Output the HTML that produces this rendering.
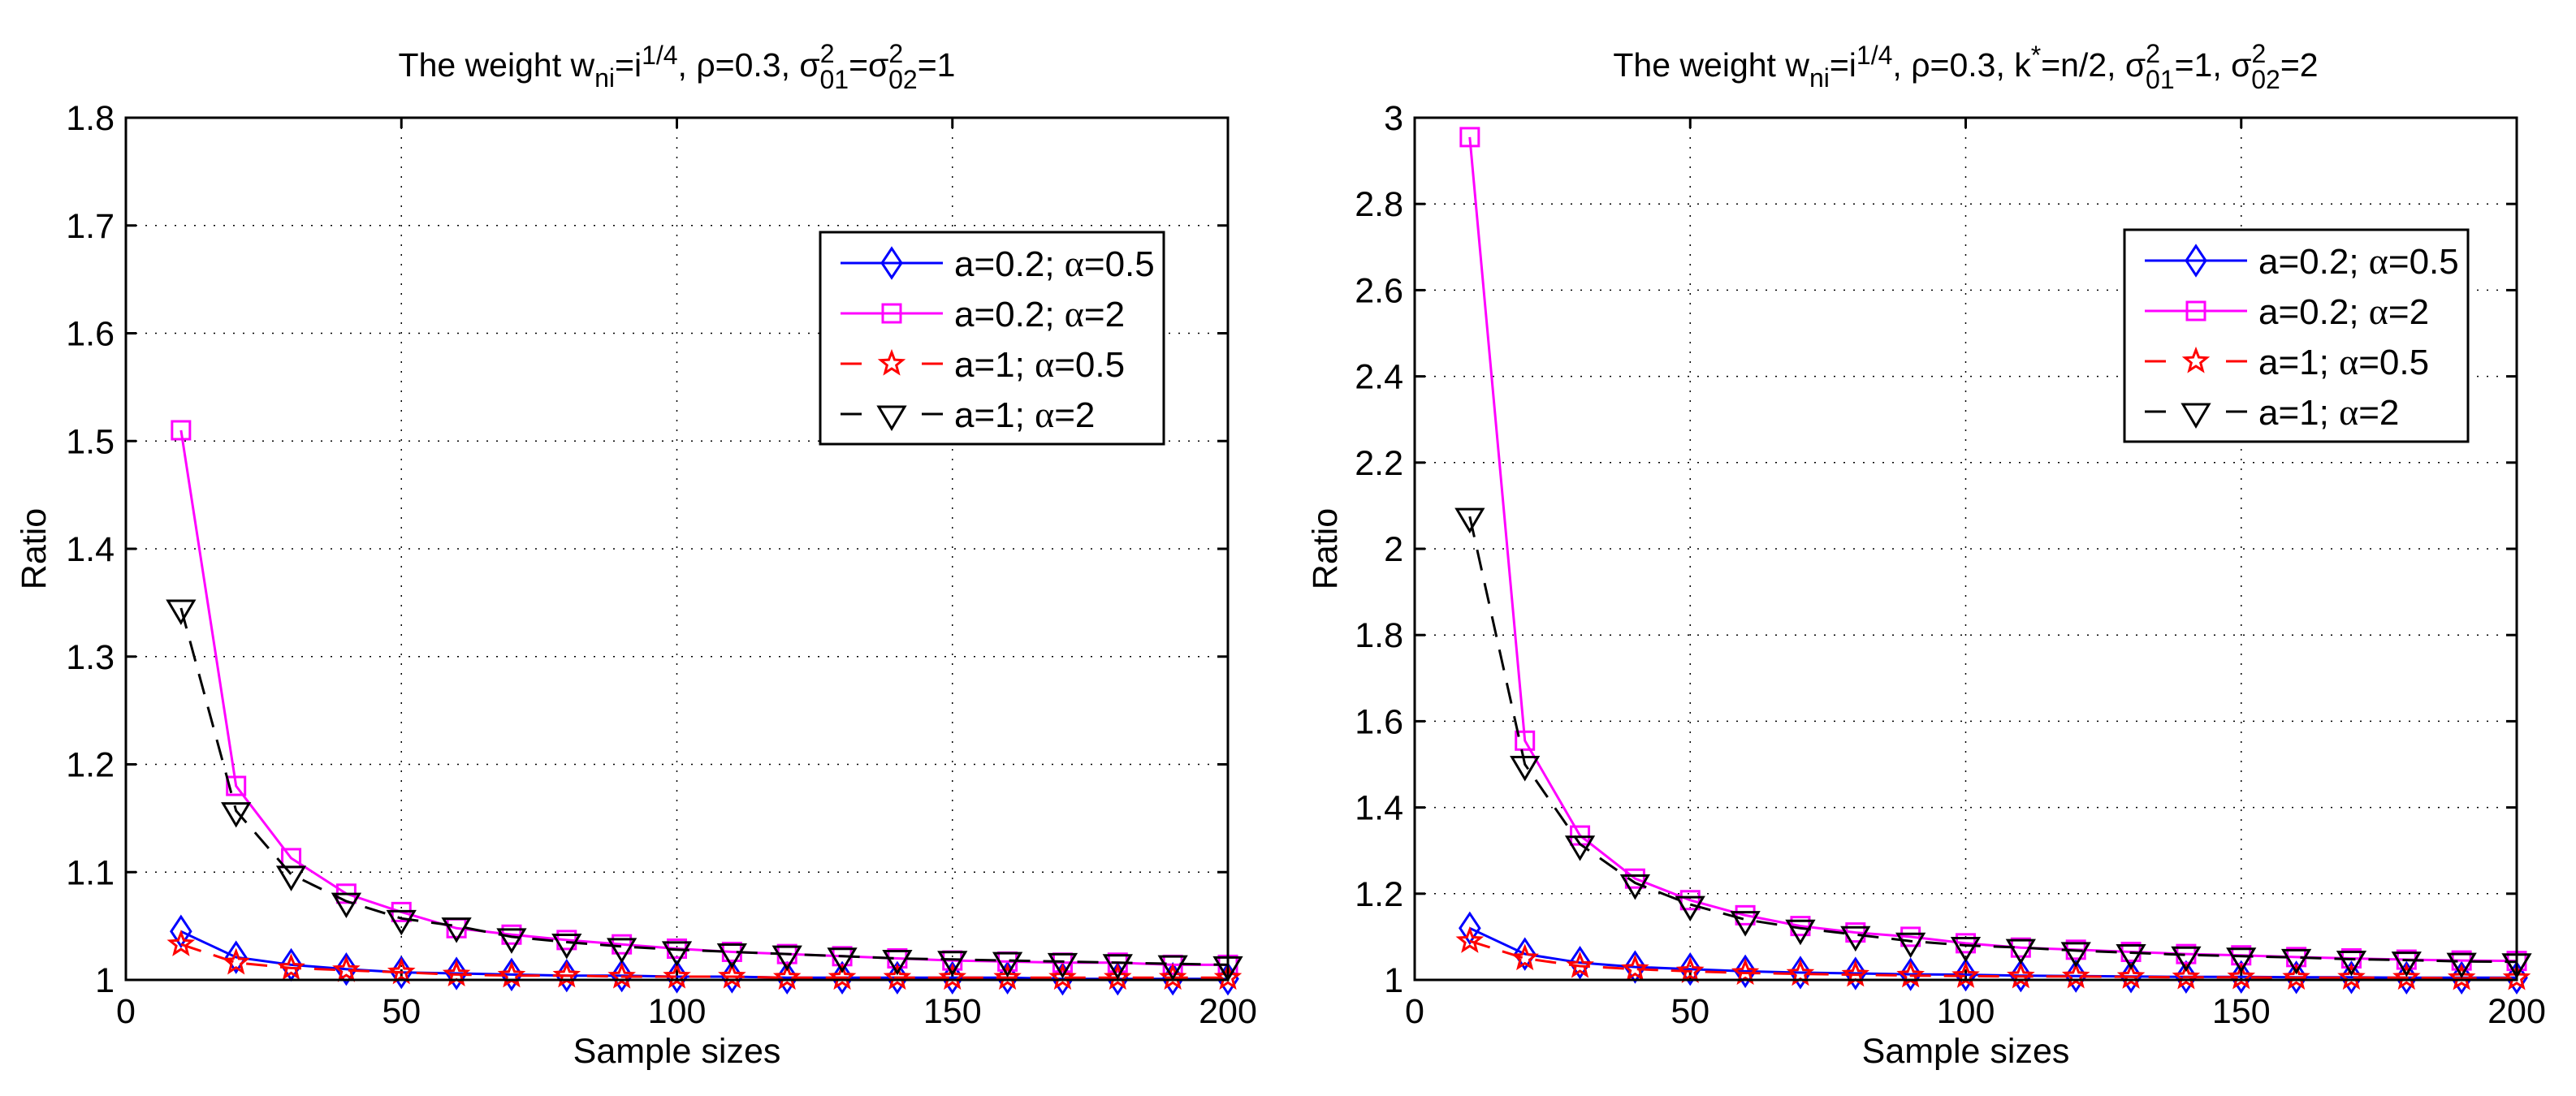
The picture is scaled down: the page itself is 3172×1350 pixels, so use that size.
<!DOCTYPE html>
<html><head><meta charset="utf-8">
<style>
html,body{margin:0;padding:0;background:#fff;}
svg{display:block;font-family:"Liberation Sans",Arial,sans-serif;}
</style></head>
<body>
<svg id="fig" width="3172" height="1350" viewBox="0 0 3172 1350" xmlns="http://www.w3.org/2000/svg"></svg>
<script>
const xValues = [10,20,30,40,50,60,70,80,90,100,110,120,130,140,150,160,170,180,190,200];
const xTicks = [0,50,100,150,200];
const leftYTicks = [1,1.1,1.2,1.3,1.4,1.5,1.6,1.7,1.8];
const leftYTickLabels = ["1","1.1","1.2","1.3","1.4","1.5","1.6","1.7","1.8"];
const rightYTicks = [1,1.2,1.4,1.6,1.8,2,2.2,2.4,2.6,2.8,3];
const rightYTickLabels = ["1","1.2","1.4","1.6","1.8","2","2.2","2.4","2.6","2.8","3"];
const seriesPrefix = ["a=0.2; ","a=0.2; ","a=1; ","a=1; "];
const seriesSuffix = ["=0.5","=2","=0.5","=2"];
const leftBlue = [1.045,1.021,1.014,1.010,1.007,1.006,1.005,1.004,1.004,1.003,1.003,1.002,1.002,1.002,1.002,1.002,1.001,1.001,1.001,1.001];
const leftMagenta = [1.51,1.18,1.113,1.08,1.063,1.048,1.042,1.037,1.033,1.029,1.026,1.024,1.022,1.020,1.018,1.017,1.016,1.016,1.014,1.014];
const leftRed = [1.033,1.016,1.011,1.009,1.007,1.005,1.004,1.004,1.003,1.003,1.003,1.002,1.002,1.002,1.002,1.002,1.002,1.002,1.002,1.002];
const leftBlack = [1.345,1.157,1.098,1.073,1.057,1.050,1.040,1.035,1.031,1.028,1.026,1.024,1.022,1.020,1.019,1.018,1.017,1.016,1.015,1.014];
const rightBlue = [1.12,1.06,1.04,1.03,1.025,1.02,1.017,1.015,1.013,1.012,1.010,1.009,1.008,1.007,1.007,1.006,1.006,1.005,1.005,1.005];
const rightMagenta = [2.955,1.555,1.335,1.235,1.185,1.15,1.125,1.11,1.10,1.085,1.075,1.07,1.065,1.06,1.057,1.053,1.05,1.047,1.045,1.044];
const rightRed = [1.09,1.05,1.032,1.025,1.02,1.016,1.014,1.012,1.010,1.009,1.008,1.008,1.007,1.006,1.006,1.005,1.005,1.005,1.004,1.004];
const rightBlack = [2.075,1.50,1.315,1.225,1.175,1.14,1.12,1.105,1.09,1.08,1.075,1.068,1.063,1.058,1.055,1.052,1.048,1.046,1.043,1.042];

const NS="http://www.w3.org/2000/svg";
const svg=document.getElementById('fig');
function mk(tag,attrs,parent){const e=document.createElementNS(NS,tag);for(const k in attrs)e.setAttribute(k,attrs[k]);(parent||svg).appendChild(e);return e;}

const styles=[
 {color:"#0000ff",dash:"none",marker:"diamond"},
 {color:"#ff00ff",dash:"none",marker:"square"},
 {color:"#ff0000",dash:"26 16",marker:"star"},
 {color:"#000000",dash:"26 16",marker:"tri"}
];
const seriesNames=["series-a02-alpha05","series-a02-alpha2","series-a1-alpha05","series-a1-alpha2"];

function marker(g,type,cx,cy,color){
  let e;
  if(type==="diamond"){
    e=mk('polygon',{points:`${cx},${cy-18} ${cx+12},${cy} ${cx},${cy+18} ${cx-12},${cy}`,fill:'none',stroke:color,'stroke-width':3},g);
  }else if(type==="square"){
    e=mk('rect',{x:cx-11,y:cy-11,width:22,height:22,fill:'none',stroke:color,'stroke-width':3},g);
  }else if(type==="star"){
    let p=[];for(let i=0;i<10;i++){const r=i%2?6:14;const a=-Math.PI/2+i*Math.PI/5;p.push((cx+r*Math.cos(a)).toFixed(1)+","+(cy+r*Math.sin(a)).toFixed(1));}
    e=mk('polygon',{points:p.join(' '),fill:'none',stroke:color,'stroke-width':3},g);
  }else{
    e=mk('polygon',{points:`${cx-16},${cy-9} ${cx+16},${cy-9} ${cx},${cy+18}`,fill:'none',stroke:color,'stroke-width':3},g);
  }
  return e;
}

function drawPlot(cfg){
  const {L,R,T,B,ymin,ymax,yTicks,yLabels,data,prefix,title,legend}=cfg;
  const g=mk('g',{});
  
  
  const xs=v=>L+(v-0)/(200-0)*(R-L);
  const ys=v=>B-(v-ymin)/(ymax-ymin)*(B-T);
  xTicks.forEach(t=>{if(t>0&&t<200){const l=mk('line',{x1:xs(t),x2:xs(t),y1:T,y2:B,stroke:'#000','stroke-width':1.5,'stroke-dasharray':'2 10'},g);}});
  yTicks.forEach(t=>{const y=ys(t);if(Math.abs(y-T)>2&&Math.abs(y-B)>2){const l=mk('line',{x1:L,x2:R,y1:y,y2:y,stroke:'#000','stroke-width':1.5,'stroke-dasharray':'2 10'},g);}});
  xTicks.forEach(t=>{const x=xs(t);
    mk('line',{x1:x,x2:x,y1:B,y2:B-13,stroke:'#000','stroke-width':3},g);
    mk('line',{x1:x,x2:x,y1:T,y2:T+13,stroke:'#000','stroke-width':3},g);
    const tx=mk('text',{x:x,y:B+53,'font-size':43,'text-anchor':'middle'},g);tx.textContent=t;
    });
  yTicks.forEach((t,i)=>{const y=ys(t);
    mk('line',{x1:L,x2:L+13,y1:y,y2:y,stroke:'#000','stroke-width':3},g);
    mk('line',{x1:R,x2:R-13,y1:y,y2:y,stroke:'#000','stroke-width':3},g);
    const tx=mk('text',{x:L-14,y:y+15,'font-size':43,'text-anchor':'end'},g);tx.textContent=yLabels[i];
    });
  data.forEach((vals,si)=>{
    const s=styles[si];
    const sg=mk('g',{},g);
    
    
    const pts=xValues.map((x,i)=>xs(x).toFixed(1)+","+ys(vals[i]).toFixed(1)).join(' ');
    const pl=mk('polyline',{points:pts,fill:'none',stroke:s.color,'stroke-width':3,'stroke-dasharray':s.dash},sg);
    
    xValues.forEach((x,i)=>{const m=marker(sg,s.marker,xs(x),ys(vals[i]),s.color);
      });
  });
  const fr=mk('rect',{x:L,y:T,width:R-L,height:B-T,fill:'none',stroke:'#000','stroke-width':3},g);
  
  const xl=mk('text',{x:(L+R)/2,y:B+102,'font-size':43,'text-anchor':'middle'},g);xl.textContent='Sample sizes';
  
  const yx=cfg.ylabelX, yy=(T+B)/2;
  const yl=mk('text',{x:yx,y:yy,'font-size':43,'text-anchor':'middle',transform:`rotate(-90 ${yx} ${yy})`},g);yl.textContent='Ratio';
  
  const tt=mk('text',{x:(L+R)/2,y:94,'font-size':41,'text-anchor':'middle'},g);
  tt.innerHTML=title;
  
  const lg=mk('g',{},g);
  
  mk('rect',{x:legend.x,y:legend.y,width:legend.w,height:legend.h,fill:'#fff',stroke:'#000','stroke-width':3},lg);
  seriesPrefix.forEach((lab,i)=>{
    const s=styles[i];const ry=legend.y+38+i*62;
    const eg=mk('g',{},lg);
    
    const lx=legend.x+25;
    if(s.dash==="none"){mk('line',{x1:lx,x2:lx+126,y1:ry,y2:ry,stroke:s.color,'stroke-width':3},eg);}
    else{mk('line',{x1:lx,x2:lx+26,y1:ry,y2:ry,stroke:s.color,'stroke-width':3},eg);mk('line',{x1:lx+100,x2:lx+126,y1:ry,y2:ry,stroke:s.color,'stroke-width':3},eg);}
    marker(eg,s.marker,lx+63,ry,s.color);
    const t=mk('text',{x:lx+140,y:ry+16,'font-size':44},eg);
    t.innerHTML=lab+'<tspan font-family="Liberation Serif, serif" font-size="46">\u03b1</tspan>'+seriesSuffix[i];
  });
}

drawPlot({L:155,R:1512,T:145,B:1207,ymin:1,ymax:1.8,yTicks:leftYTicks,yLabels:leftYTickLabels,
  data:[leftBlue,leftMagenta,leftRed,leftBlack],prefix:'left',ylabelX:56,
  title:'The weight w<tspan dy="13" font-size="32">ni</tspan><tspan dy="-13">=i</tspan><tspan dy="-15" font-size="32">1/4</tspan><tspan dy="15">, \u03c1=0.3, \u03c3</tspan><tspan dy="-17" font-size="32">2</tspan><tspan dx="-18" dy="32" font-size="32">01</tspan><tspan dy="-15">=\u03c3</tspan><tspan dy="-17" font-size="32">2</tspan><tspan dx="-18" dy="32" font-size="32">02</tspan><tspan dy="-15">=1</tspan>',
  legend:{x:1010,y:286,w:423,h:261}});
drawPlot({L:1742,R:3099,T:145,B:1207,ymin:1,ymax:3,yTicks:rightYTicks,yLabels:rightYTickLabels,
  data:[rightBlue,rightMagenta,rightRed,rightBlack],prefix:'right',ylabelX:1646,
  title:'The weight w<tspan dy="13" font-size="32">ni</tspan><tspan dy="-13">=i</tspan><tspan dy="-15" font-size="32">1/4</tspan><tspan dy="15">, \u03c1=0.3, k</tspan><tspan dy="-15" font-size="32">*</tspan><tspan dy="15">=n/2, \u03c3</tspan><tspan dy="-17" font-size="32">2</tspan><tspan dx="-18" dy="32" font-size="32">01</tspan><tspan dy="-15">=1, \u03c3</tspan><tspan dy="-17" font-size="32">2</tspan><tspan dx="-18" dy="32" font-size="32">02</tspan><tspan dy="-15">=2</tspan>',
  legend:{x:2616,y:283,w:423,h:261}});
</script>
</body></html>
